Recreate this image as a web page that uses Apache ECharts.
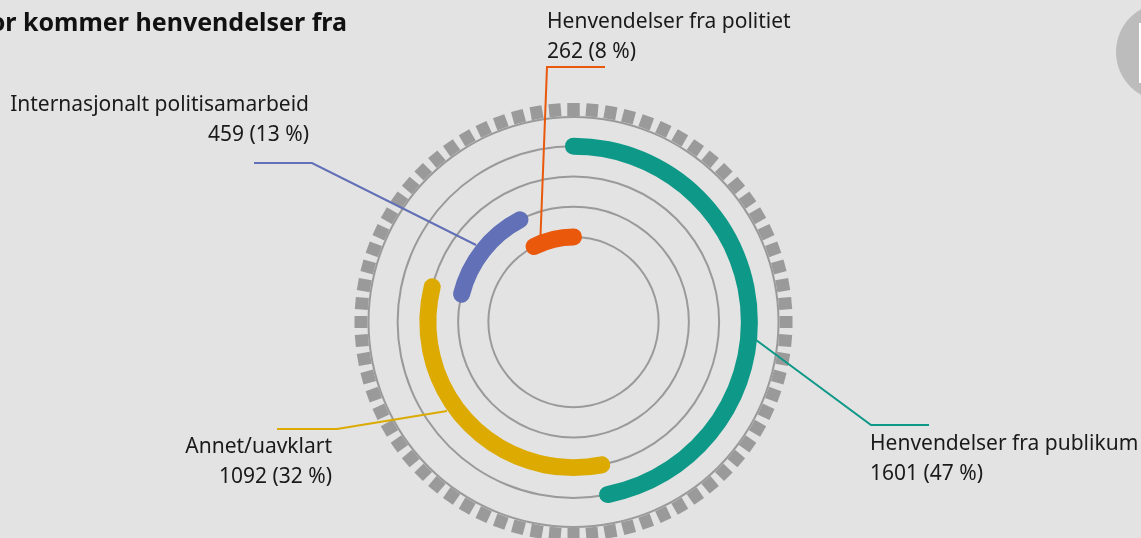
<!DOCTYPE html>
<html>
<head>
<meta charset="utf-8">
<script src="https://cdn.jsdelivr.net/npm/echarts@6/dist/echarts.min.js"></script>
<style>
  html, body { margin: 0; padding: 0; background: #e2e3e2; }
  #chart { width: 1141px; height: 538px; }
</style>
</head>
<body>
<div id="chart"></div>
<script>
  // ringene innerst -> ytterst
  const rings = ['Henvendelser fra politiet', 'Internasjonalt politisamarbeid', 'Annet/uavklart', 'Henvendelser fra publikum']
  const counts = [262, 459, 1092, 1601]
  const shares = [8, 13, 32, 47]

  const colors = ['#ea580c', '#6170b7', '#dcaa00', '#0e9888']
  const grey = '#9a9a9a'
  const font = 'Noto Sans'

  const total = counts.reduce((a, b) => a + b, 0)
  // hver bue starter der den forrige sluttet (ytterst først)
  const startAt = []
  let acc = 0
  for (let i = counts.length - 1; i >= 0; i--) {
    startAt[i] = acc
    acc += counts[i]
  }

  const cx = 573.5, cy = 322
  const polarRadius = [70, 191]

  const label = (text, x, y, align) => ({
    type: 'text', x, y,
    style: { text, fill: '#1a1a1a', font: '21px "' + font + '"', textAlign: align, textVerticalAlign: 'middle', lineHeight: 30 }
  })
  const leader = (points, color) => ({
    type: 'polyline', shape: { points }, style: { stroke: color, lineWidth: 2, fill: null }, z: 5
  })
  const txt = i => rings[i] + '\n' + counts[i] + ' (' + shares[i] + ' %)'

  const chart = echarts.init(document.getElementById('chart'))
  chart.setOption({
    backgroundColor: '#e2e3e2',
    animation: false,
    polar: [
      { center: [cx, cy], radius: polarRadius },
      { center: [cx, cy], radius: polarRadius }
    ],
    angleAxis: [
      { polarIndex: 0, type: 'value', min: 0, max: total, startAngle: 90, clockwise: true, show: false },
      { polarIndex: 1, type: 'value', min: 0, max: total, startAngle: 90, clockwise: true, show: false }
    ],
    radiusAxis: [
      { polarIndex: 0, type: 'category', data: rings, show: false },
      { polarIndex: 1, type: 'category', data: rings, show: false }
    ],
    series: [
      { // tynne grå sirkler
        type: 'bar', coordinateSystem: 'polar', polarIndex: 1,
        data: rings.map(() => total), barWidth: 2, silent: true, z: 1,
        itemStyle: { color: grey }
      },
      { // usynlig forskyvning
        type: 'bar', coordinateSystem: 'polar', polarIndex: 0, stack: 'ring',
        data: startAt, barWidth: 17, silent: true, z: 2,
        itemStyle: { color: 'rgba(0,0,0,0)' }
      },
      {
        type: 'bar', coordinateSystem: 'polar', polarIndex: 0, stack: 'ring',
        data: counts.map((v, i) => ({ value: v, itemStyle: { color: colors[i] } })),
        barWidth: 17, roundCap: true, z: 3
      },
      { // stiplet ytterring
        type: 'gauge', center: [cx, cy], radius: 206,
        startAngle: 90, endAngle: -270, min: 0, max: 72, splitNumber: 72,
        axisLine: { show: true, lineStyle: { width: 2, color: [[1, grey]] } },
        splitLine: { show: true, length: 13, distance: -15, lineStyle: { width: 12, color: grey, cap: 'butt' } },
        axisTick: { show: false }, axisLabel: { show: false },
        pointer: { show: false }, anchor: { show: false }, title: { show: false }, detail: { show: false },
        data: []
      }
    ],
    graphic: [
      {
        type: 'text', x: 347, y: 24,
        style: { text: 'Hvor kommer henvendelser fra', fill: '#111', font: 'bold 25px "' + font + '"', textAlign: 'right', textVerticalAlign: 'middle' }
      },
      { type: 'circle', shape: { cx: 1165, cy: 52, r: 49 }, style: { fill: '#bcbcbc' } },
      { type: 'rect', shape: { x: 1139, y: 23, width: 10, height: 60 }, style: { fill: '#ffffff' } },

      label(txt(0), 547, 37, 'left'),
      label(txt(1), 309, 120, 'right'),
      label(txt(2), 332, 462, 'right'),
      label(txt(3), 870, 459, 'left'),

      leader([[605, 67], [547, 67], [540.5, 236]], colors[0]),
      leader([[254, 163], [312, 163], [476, 245]], colors[1]),
      leader([[277, 429], [337, 429], [447, 411]], colors[2]),
      leader([[929, 425], [871, 425], [752, 337]], colors[3])
    ]
  })
</script>
</body>
</html>
